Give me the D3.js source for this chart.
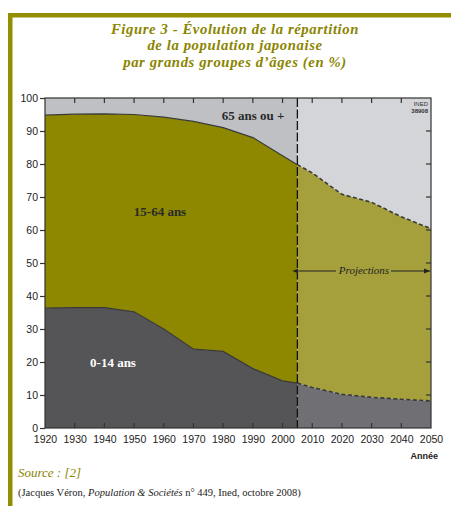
<!DOCTYPE html>
<html><head><meta charset="utf-8">
<script src="https://cdn.jsdelivr.net/npm/d3@7"></script>
<style>html,body{margin:0;padding:0;background:#fff;}svg{display:block;}</style>
</head><body>
<script>
const years = [1920,1930,1940,1950,1960,1970,1980,1990,2000,2005,2010,2020,2030,2040,2050];
const age0_14 = [36.3,36.5,36.5,35.2,30.0,23.9,23.2,18.0,14.3,13.6,12.3,10.2,9.3,8.7,8.2];
const age15_64cum = [94.8,95.1,95.2,95.0,94.2,92.9,91.0,88.0,82.5,79.8,77.3,70.8,68.4,64.0,60.4];
const projectionStart = 2005;
const xTicks = [1920,1930,1940,1950,1960,1970,1980,1990,2000,2010,2020,2030,2040,2050];
const yTicks = [0,10,20,30,40,50,60,70,80,90,100];
const titleLines = ["Figure 3 - Évolution de la répartition","de la population japonaise","par grands groupes d’âges (en %)"];

const W = 451, H = 506;
const svg = d3.select("body").append("svg").attr("width", W).attr("height", H);

// frame
const olive = "#938e00";
svg.append("rect").attr("x", 8).attr("y", 13).attr("width", W - 8).attr("height", 4.5).attr("fill", olive);
svg.append("rect").attr("x", 8).attr("y", 13).attr("width", 4.5).attr("height", H - 13).attr("fill", olive);

// title
const title = svg.append("text").attr("text-anchor", "middle").attr("fill", "#8a8500")
  .attr("font-family", "'Liberation Serif', 'DejaVu Serif', serif").attr("font-style", "italic")
  .attr("font-weight", "bold").attr("font-size", 14.7).attr("letter-spacing", 0.6);
titleLines.forEach((t, i) => title.append("tspan").attr("x", 235).attr("y", 34 + i * 16.4).text(t));

const x = d3.scaleLinear().domain([1920, 2050]).range([45, 431]);
const y = d3.scaleLinear().domain([0, 100]).range([428, 98]);

const data = years.map((yr, i) => ({yr, a: age0_14[i], b: age15_64cum[i]}));
const pIdx = years.indexOf(projectionStart);
const hist = data.slice(0, pIdx + 1);
const proj = data.slice(pIdx);

function drawAreas(d, cols) {
  svg.append("path").datum(d).attr("fill", cols[0])
    .attr("d", d3.area().x(p => x(p.yr)).y0(y(100)).y1(p => y(p.b)));
  svg.append("path").datum(d).attr("fill", cols[1])
    .attr("d", d3.area().x(p => x(p.yr)).y0(p => y(p.a)).y1(p => y(p.b)));
  svg.append("path").datum(d).attr("fill", cols[2])
    .attr("d", d3.area().x(p => x(p.yr)).y0(y(0)).y1(p => y(p.a)));
}
drawAreas(hist, ["#bfc0c4", "#8d8800", "#555457"]);
drawAreas(proj, ["#d4d5d8", "#a5a03c", "#707074"]);

const lineA = d3.line().x(p => x(p.yr)).y(p => y(p.a));
const lineB = d3.line().x(p => x(p.yr)).y(p => y(p.b));
[lineA, lineB].forEach(l => {
  svg.append("path").datum(hist).attr("fill", "none").attr("stroke", "#3a3a3a").attr("stroke-width", 1.2).attr("d", l);
  svg.append("path").datum(proj).attr("fill", "none").attr("stroke", "#3a3a3a").attr("stroke-width", 1.6)
    .attr("stroke-dasharray", "4,2.5").attr("d", l);
});

// projection divider
svg.append("line").attr("x1", x(projectionStart)).attr("x2", x(projectionStart)).attr("y1", y(100)).attr("y2", y(0))
  .attr("stroke", "#111").attr("stroke-width", 1.3).attr("stroke-dasharray", "9,2.5");

// plot border
svg.append("rect").attr("x", x(1920)).attr("y", y(100)).attr("width", x(2050) - x(1920)).attr("height", y(0) - y(100))
  .attr("fill", "none").attr("stroke", "#333").attr("stroke-width", 1.2);

const tickFont = "'Liberation Sans', Arial, sans-serif";
// left axis
const left = svg.append("g").attr("transform", `translate(${x(1920)},0)`)
  .call(d3.axisLeft(y).tickValues(yTicks).tickSize(5).tickPadding(2).tickFormat(d3.format("d")));
// bottom axis
const bottom = svg.append("g").attr("transform", `translate(0,${y(0)})`)
  .call(d3.axisBottom(x).tickValues(xTicks).tickSize(0).tickPadding(8).tickFormat(d3.format("d")));
[left, bottom].forEach(g => {
  g.select(".domain").remove();
  g.selectAll("text").attr("font-family", tickFont).attr("font-size", 10.5).attr("fill", "#222");
  g.selectAll("line").attr("stroke", "#333").attr("stroke-width", 1.2);
});
// inner ticks
const innerX = xTicks.filter(t => t > 1920 && t < 2050);
svg.append("g").selectAll("line.b").data(innerX).join("line")
  .attr("x1", d => x(d)).attr("x2", d => x(d)).attr("y1", y(0)).attr("y2", y(0) - 5)
  .attr("stroke", "#333").attr("stroke-width", 1.2);
svg.append("g").selectAll("line.t").data(innerX).join("line")
  .attr("x1", d => x(d)).attr("x2", d => x(d)).attr("y1", y(100)).attr("y2", y(100) + 5)
  .attr("stroke", "#333").attr("stroke-width", 1.2);
svg.append("g").selectAll("line.r").data(yTicks.filter(t => t > 0 && t < 100)).join("line")
  .attr("x1", x(2050)).attr("x2", x(2050) - 5).attr("y1", d => y(d)).attr("y2", d => y(d))
  .attr("stroke", "#333").attr("stroke-width", 1.2);

svg.append("text").attr("x", 438).attr("y", 459).attr("text-anchor", "end")
  .attr("font-family", tickFont).attr("font-weight", "bold").attr("font-size", 9).attr("fill", "#222").text("Année");

// group labels
const serif = "'Liberation Serif', 'DejaVu Serif', serif";
svg.append("text").attr("x", 253).attr("y", 120).attr("text-anchor", "middle").attr("font-family", serif)
  .attr("font-weight", "bold").attr("font-size", 13).attr("fill", "#2a2a2a").text("65 ans ou +");
svg.append("text").attr("x", 160).attr("y", 216).attr("text-anchor", "middle").attr("font-family", serif)
  .attr("font-weight", "bold").attr("font-size", 13).attr("fill", "#2a2a2a").text("15-64 ans");
svg.append("text").attr("x", 113).attr("y", 367).attr("text-anchor", "middle").attr("font-family", serif)
  .attr("font-weight", "bold").attr("font-size", 13).attr("fill", "#fff").text("0-14 ans");

// INED tag
svg.append("text").attr("x", 428).attr("y", 106).attr("text-anchor", "end").attr("font-family", tickFont)
  .attr("font-size", 6).attr("fill", "#333").text("INED");
svg.append("text").attr("x", 428).attr("y", 113).attr("text-anchor", "end").attr("font-family", tickFont)
  .attr("font-size", 6).attr("font-weight", "bold").attr("fill", "#333").text("38908");

// projections arrow
const defs = svg.append("defs");
["s", "e"].forEach(k => {
  defs.append("marker").attr("id", "arr" + k).attr("viewBox", "0 0 10 10").attr("refX", k === "e" ? 10 : 0).attr("refY", 5)
    .attr("markerWidth", 6).attr("markerHeight", 6).attr("orient", k === "e" ? "0" : "180")
    .append("path").attr("d", "M0,1L10,5L0,9Z").attr("fill", "#222");
});
const ay = 271;
svg.append("line").attr("x1", x(projectionStart) + 1).attr("x2", 336).attr("y1", ay).attr("y2", ay)
  .attr("stroke", "#222").attr("stroke-width", 1).attr("marker-start", "url(#arrs)");
svg.append("line").attr("x1", 391).attr("x2", x(2050) - 1).attr("y1", ay).attr("y2", ay)
  .attr("stroke", "#222").attr("stroke-width", 1).attr("marker-end", "url(#arre)");
svg.append("text").attr("x", 364).attr("y", 274).attr("text-anchor", "middle").attr("font-family", serif)
  .attr("font-style", "italic").attr("font-size", 11).attr("fill", "#222").text("Projections");

// source
svg.append("text").attr("x", 18).attr("y", 477).attr("font-family", serif).attr("font-style", "italic")
  .attr("font-size", 13).attr("fill", "#8a8500").text("Source : [2]");
const src = svg.append("text").attr("x", 18).attr("y", 496).attr("font-family", serif)
  .attr("font-size", 10.5).attr("fill", "#222");
src.append("tspan").text("(Jacques Véron, ");
src.append("tspan").attr("font-style", "italic").text("Population & Sociétés");
src.append("tspan").text(" n° 449, Ined, octobre 2008)");
</script>
</body></html>
